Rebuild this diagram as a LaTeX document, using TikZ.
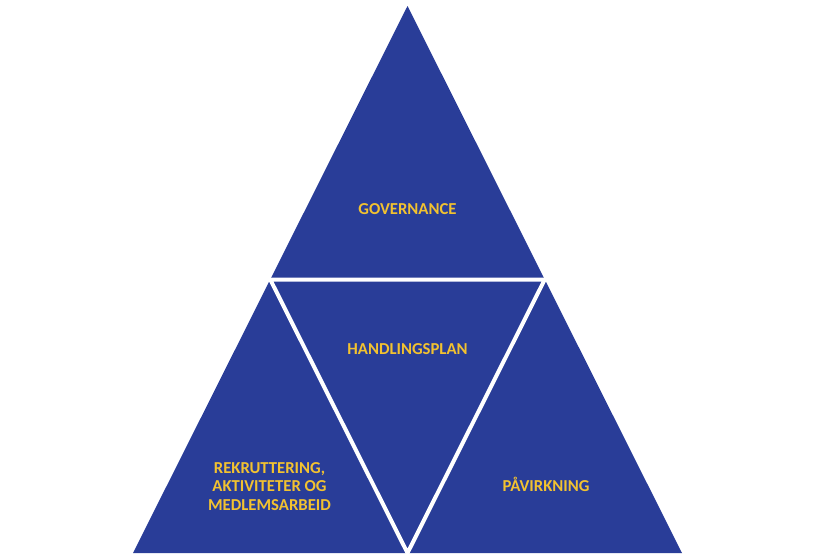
\documentclass[tikz,border=0pt]{standalone}
\usepackage{fontspec}
\setmainfont{Carlito}
\usetikzlibrary{calc}
\definecolor{tri}{HTML}{293D98}
\definecolor{lab}{HTML}{F2C230}
\begin{document}
\begin{tikzpicture}[x=1pt,y=-1pt,
  lbl/.style={text=lab, font=\bfseries\fontsize{16.7}{18.5}\selectfont, align=center, inner sep=0pt, anchor=base},
  gap/.style={white, line width=4pt, line join=miter}]
\useasboundingbox (0,0) rectangle (815,560);
\coordinate (A) at (407.5,6);
\coordinate (BL) at (133,553);
\coordinate (BR) at (682,553);
\coordinate (ML) at ($(A)!0.5!(BL)$);
\coordinate (MR) at ($(A)!0.5!(BR)$);
\coordinate (MB) at ($(BL)!0.5!(BR)$);
\fill[tri] (A) -- (BL) -- (BR) -- cycle;
\draw[gap] (ML) -- (MR) -- (MB) -- cycle;
\node[lbl] (gov) at (407.5,214.7) {GOVERNANCE};
\node[lbl] (hand) at (407.5,354) {HANDLINGSPLAN};
\node[lbl] (pav) at (546,491) {PÅVIRKNING};
\node[lbl] (rek) at (269.5,510) {REKRUTTERING,\\AKTIVITETER OG\\MEDLEMSARBEID};
\end{tikzpicture}
\end{document}
